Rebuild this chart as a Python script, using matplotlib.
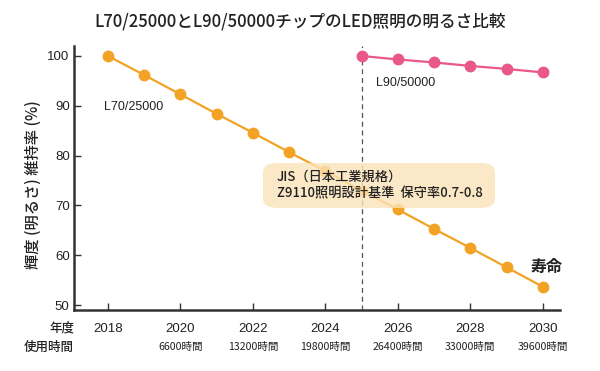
import matplotlib.pyplot as plt
from matplotlib.patches import FancyBboxPatch

# COLORS
ORANGE = "#f2a325"
PINK = "#e9578b"
AXIS_COLOR = "#333333"
BOX_COLOR = "#fbe3b8"
TEXT_COLOR = "#222222"

CJK = ["Noto Sans CJK JP", "DejaVu Sans"]
LATIN = ["Liberation Sans", "DejaVu Sans"]

# ==========================
# DATA
# ==========================
years_l70 = [2018, 2019, 2020, 2021, 2022, 2023, 2024, 2025, 2026, 2027, 2028, 2029, 2030]
lumen_l70 = [100, 96.2, 92.3, 88.4, 84.6, 80.7, 76.9, 73.0, 69.2, 65.3, 61.5, 57.6, 53.7]

years_l90 = [2025, 2026, 2027, 2028, 2029, 2030]
lumen_l90 = [100, 99.3, 98.7, 98.0, 97.4, 96.7]

year_ticks = [2018, 2020, 2022, 2024, 2026, 2028, 2030]
hour_labels = ["", "6600時間", "13200時間", "19800時間", "26400時間", "33000時間", "39600時間"]
y_ticks = [50, 60, 70, 80, 90, 100]

divider_year = 2025

# ==========================
# FIGURE
# ==========================
fig = plt.figure(figsize=(6, 3.71), dpi=100)
ax = fig.add_axes([0.123, 0.164, 0.81, 0.712])

ax.plot(years_l70, lumen_l70, color=ORANGE, marker="o", markersize=7.5,
        linewidth=1.6, zorder=3)
ax.plot(years_l90, lumen_l90, color=PINK, marker="o", markersize=7.5,
        linewidth=1.6, zorder=3)

ax.axvline(divider_year, color="#555555", linestyle=(0, (4, 3)), linewidth=0.9, zorder=2)

ax.set_xlim(2017.06, 2030.47)
ax.set_ylim(49.0, 102.0)
ax.set_xticks(year_ticks)
ax.set_yticks(y_ticks)

for side in ["top", "right"]:
    ax.spines[side].set_visible(False)
for side in ["left", "bottom"]:
    ax.spines[side].set_color(AXIS_COLOR)
    ax.spines[side].set_linewidth(1.8)

ax.tick_params(axis="x", direction="in", length=5, width=1, color=AXIS_COLOR,
               pad=9, labelsize=9.5, labelcolor=TEXT_COLOR)
ax.tick_params(axis="y", direction="in", length=5, width=1, color=AXIS_COLOR,
               pad=3, labelsize=9.5, labelcolor=TEXT_COLOR)
for lab in ax.get_xticklabels() + ax.get_yticklabels():
    lab.set_family(LATIN)

# hours under the years
for yr, h in zip(year_ticks, hour_labels):
    if h:
        ax.text(yr, -(347 - 310) / 264, h, transform=ax.get_xaxis_transform(),
                ha="center", va="center", fontsize=7.6, family=CJK, color=TEXT_COLOR)

fig.text(74 / 600, 1 - 328 / 371, "年度", ha="right", va="center",
         fontsize=9, family=CJK, fontweight="medium", color=TEXT_COLOR)
fig.text(74 / 600, 1 - 347 / 371, "使用時間", ha="right", va="center",
         fontsize=9, family=CJK, fontweight="medium", color=TEXT_COLOR)

# labels
ax.text(2017.9, 89.8, "L70/25000", fontsize=9, family=LATIN, color=TEXT_COLOR,
        ha="left", va="center")
ax.text(2025.4, 94.6, "L90/50000", fontsize=9, family=LATIN, color=TEXT_COLOR,
        ha="left", va="center")
ax.text(2030.1, 57.6, "寿命", fontsize=11.5, family=CJK, fontweight="bold",
        color=TEXT_COLOR, ha="center", va="center")

# JIS box
box = FancyBboxPatch((263 / 600, 1 - 208 / 371), 232 / 600, 45 / 371,
                     boxstyle="round,pad=0,rounding_size=0.025",
                     transform=fig.transFigure, facecolor=BOX_COLOR,
                     edgecolor="none", alpha=0.8, zorder=4)
fig.patches.append(box)
fig.text(277 / 600, 1 - 177 / 371, "JIS（日本工業規格）", fontsize=9.5, family=CJK,
         fontweight="medium", color=TEXT_COLOR, ha="left", va="center", zorder=5)
fig.text(277 / 600, 1 - 193 / 371, "Z9110照明設計基準  保守率0.7-0.8", fontsize=9.5,
         family=CJK, fontweight="medium", color=TEXT_COLOR, ha="left", va="center", zorder=5)

fig.text(33 / 600, 1 - 185 / 371, "輝度 (明るさ) 維持率 (%)", rotation=90,
         fontsize=11, family=CJK, fontweight="medium", color=TEXT_COLOR,
         ha="center", va="center")

fig.text(0.5, 1 - 22 / 371, "L70/25000とL90/50000チップのLED照明の明るさ比較",
         ha="center", va="center", fontsize=12, family=CJK, fontweight="medium",
         color=TEXT_COLOR)

fig.savefig("out.png", dpi=100)
